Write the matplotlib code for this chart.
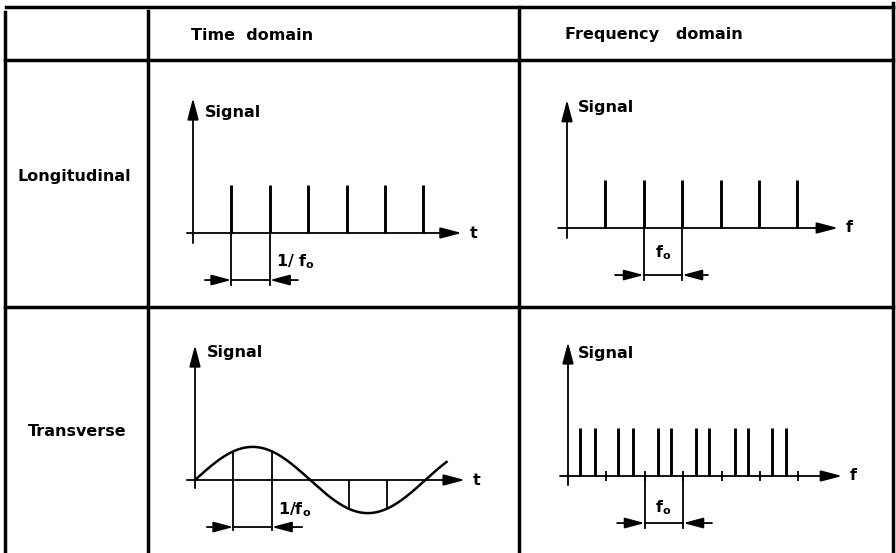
import matplotlib
matplotlib.use('Agg')
import matplotlib.pyplot as plt
import numpy as np

plt.rcParams['font.family'] = 'DejaVu Sans'
plt.rcParams['mathtext.fontset'] = 'dejavusans'
plt.rcParams['mathtext.default'] = 'bf'

# table texts
col_labels = ['Time  domain', 'Frequency   domain']
row_labels = ['Longitudinal', 'Transverse']

# longitudinal: equally spaced pulses (units of 1/f0 or f0)
pulse_times = [1, 2, 3, 4, 5, 6]
pulse_time_heights = [1, 1, 1, 1, 1, 1]
pulse_freqs = [1, 2, 3, 4, 5, 6]
pulse_freq_heights = [1, 1, 1, 1, 1, 1]

# transverse: sine sampled at 1/f0, spectrum lines around harmonics
sine_amp = 0.69
sine_period = 6.0
sine_end = 6.55
sample_times = [1, 2, 4, 5]
harmonic_ticks = [1, 2, 3, 4, 5, 6]
sideband_freqs = [0.31, 0.70, 1.30, 1.69, 2.34, 2.68, 3.33, 3.67, 4.35, 4.69, 5.31, 5.68]
sideband_heights = [1, 1, 1, 1, 1, 1, 1, 1, 1, 1, 1, 1]

W, H = 896, 553
fig = plt.figure(figsize=(W / 100, H / 100), dpi=100)

# background axes in pixel units for the table grid
bg = fig.add_axes([0, 0, 1, 1])
bg.set_xlim(0, W)
bg.set_ylim(H, 0)
bg.axis('off')
tlw = 2.5
bg.plot([6, 893], [7, 7], color='black', lw=tlw)
bg.plot([5, 893], [60, 60], color='black', lw=tlw)
bg.plot([5, 893], [307, 307], color='black', lw=tlw)
bg.plot([5, 5], [12, H], color='black', lw=tlw)
bg.plot([148, 148], [11, H], color='black', lw=tlw)
bg.plot([519, 519], [7, H], color='black', lw=tlw)
bg.plot([893, 893], [3, H], color='black', lw=tlw)

fs = 11.5
bg.text(252, 35, col_labels[0], ha='center', va='center', fontsize=fs, fontweight='bold')
bg.text(654, 35, col_labels[1], ha='center', va='center', fontsize=fs, fontweight='bold')
bg.text(74, 177, row_labels[0], ha='center', va='center', fontsize=fs, fontweight='bold')
bg.text(77, 432, row_labels[1], ha='center', va='center', fontsize=fs, fontweight='bold')

SX, SY = 38.4, 48.0
XL = (-1.2, 8.2)
YL = (-1.8, 3.0)
alw = 1.3


def panel(ox, oy):
    left = ox + XL[0] * SX
    top = oy - YL[1] * SY
    w = (XL[1] - XL[0]) * SX
    h = (YL[1] - YL[0]) * SY
    ax = fig.add_axes([left / W, 1 - (top + h) / H, w / W, h / H])
    ax.set_xlim(*XL)
    ax.set_ylim(*YL)
    ax.axis('off')
    ax.patch.set_alpha(0)
    return ax


def axes_arrows(ax, x0, x1, y0, y1, name):
    big = dict(arrowstyle='-|>,head_length=0.65,head_width=0.17', color='black',
               lw=alw, mutation_scale=20, shrinkA=0, shrinkB=0)
    ax.annotate('', xy=(x1, 0), xytext=(x0, 0), arrowprops=big)
    ax.annotate('', xy=(0, y1), xytext=(0, y0), arrowprops=big)
    ax.text(x1 + 0.2, 0, name, ha='left', va='center', fontsize=fs, fontweight='bold')


def bracket(ax, a, b, xl, xr, ya, ybot, label, lx, ly, ha):
    ax.plot([a, a], [0, ybot], color='black', lw=alw)
    ax.plot([b, b], [0, ybot], color='black', lw=alw)
    ax.plot([a, b], [ya, ya], color='black', lw=alw)
    small = dict(arrowstyle='-|>,head_length=0.6,head_width=0.16', color='black',
                 lw=alw, mutation_scale=20, shrinkA=0, shrinkB=0)
    ax.annotate('', xy=(a, ya), xytext=(xl, ya), arrowprops=small)
    ax.annotate('', xy=(b, ya), xytext=(xr, ya), arrowprops=small)
    ax.text(lx, ly, label, ha=ha, va='center', fontsize=fs, fontweight='bold')


# time domain, longitudinal
ax1 = panel(193, 233)
axes_arrows(ax1, -0.16, 7.0, -0.21, 2.81, 't')
ax1.vlines(pulse_times, 0, pulse_time_heights, color='black', lw=2.1)
ax1.text(0.31, 2.52, 'Signal', ha='left', va='center', fontsize=fs, fontweight='bold')
bracket(ax1, pulse_times[0], pulse_times[1], 0.31, 2.73, -0.98, -1.08,
        r'1/ f$_{o}$', 2.17, -0.6, 'left')

# frequency domain, longitudinal
ax2 = panel(567, 228)
axes_arrows(ax2, -0.23, 7.06, -0.21, 2.67, 'f')
ax2.vlines(pulse_freqs, 0, pulse_freq_heights, color='black', lw=2.1)
ax2.text(0.29, 2.52, 'Signal', ha='left', va='center', fontsize=fs, fontweight='bold')
bracket(ax2, pulse_freqs[1], pulse_freqs[2], 1.25, 3.67, -0.98, -1.08,
        r'f$_{o}$', 2.5, -0.52, 'center')

# time domain, transverse
ax3 = panel(195, 480)
axes_arrows(ax3, -0.21, 7.03, -0.17, 2.81, 't')
tt = np.linspace(0, sine_end, 300)
ax3.plot(tt, sine_amp * np.sin(2 * np.pi * tt / sine_period), color='black', lw=1.8)
st = np.array(sample_times)
ax3.vlines(st, 0, sine_amp * np.sin(2 * np.pi * st / sine_period), color='black', lw=alw)
ax3.text(0.31, 2.65, 'Signal', ha='left', va='center', fontsize=fs, fontweight='bold')
bracket(ax3, sample_times[0], sample_times[1], 0.31, 2.79, -0.98, -1.04,
        r'1/f$_{o}$', 2.16, -0.62, 'left')

# frequency domain, transverse
ax4 = panel(568, 476)
axes_arrows(ax4, -0.21, 7.14, -0.19, 2.79, 'f')
ax4.vlines(sideband_freqs, 0, sideband_heights, color='black', lw=2.1)
ax4.vlines(harmonic_ticks, -0.1, 0.1, color='black', lw=alw)
ax4.text(0.26, 2.56, 'Signal', ha='left', va='center', fontsize=fs, fontweight='bold')
bracket(ax4, harmonic_ticks[1], harmonic_ticks[2], 1.28, 3.75, -0.98, -1.08,
        r'f$_{o}$', 2.47, -0.65, 'center')

fig.savefig('out.png', dpi=100)
